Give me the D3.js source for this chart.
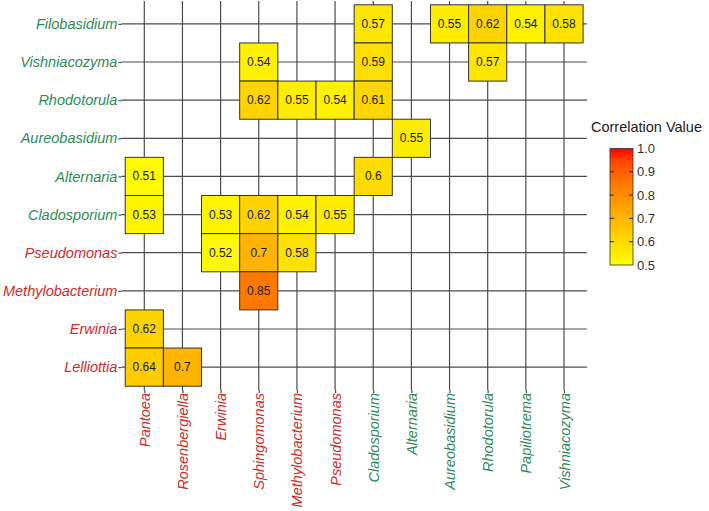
<!DOCTYPE html>
<html>
<head>
<meta charset="utf-8">
<script src="https://cdn.jsdelivr.net/npm/d3@7"></script>
<style>
  body { margin: 0; background: #fff; }
  text { font-family: "Liberation Sans", Arial, sans-serif; }
</style>
</head>
<body>
<div id="chart"></div>
<script>
// taxa along the x axis (left to right) and y axis (bottom to top)
const xTaxa = ["Pantoea", "Rosenbergiella", "Erwinia", "Sphingomonas", "Methylobacterium", "Pseudomonas",
               "Cladosporium", "Alternaria", "Aureobasidium", "Rhodotorula", "Papiliotrema", "Vishniacozyma"];
const yTaxa = ["Lelliottia", "Erwinia", "Methylobacterium", "Pseudomonas", "Cladosporium", "Alternaria",
               "Aureobasidium", "Rhodotorula", "Vishniacozyma", "Filobasidium"];
const bacteria = ["Pantoea", "Rosenbergiella", "Erwinia", "Sphingomonas", "Methylobacterium", "Pseudomonas", "Lelliottia"];

// correlation tiles: [x taxon, y taxon, value]
const cells = [
  ["Cladosporium", "Filobasidium", 0.57],
  ["Aureobasidium", "Filobasidium", 0.55],
  ["Rhodotorula", "Filobasidium", 0.62],
  ["Papiliotrema", "Filobasidium", 0.54],
  ["Vishniacozyma", "Filobasidium", 0.58],
  ["Sphingomonas", "Vishniacozyma", 0.54],
  ["Cladosporium", "Vishniacozyma", 0.59],
  ["Rhodotorula", "Vishniacozyma", 0.57],
  ["Sphingomonas", "Rhodotorula", 0.62],
  ["Methylobacterium", "Rhodotorula", 0.55],
  ["Pseudomonas", "Rhodotorula", 0.54],
  ["Cladosporium", "Rhodotorula", 0.61],
  ["Alternaria", "Aureobasidium", 0.55],
  ["Pantoea", "Alternaria", 0.51],
  ["Cladosporium", "Alternaria", 0.6],
  ["Pantoea", "Cladosporium", 0.53],
  ["Erwinia", "Cladosporium", 0.53],
  ["Sphingomonas", "Cladosporium", 0.62],
  ["Methylobacterium", "Cladosporium", 0.54],
  ["Pseudomonas", "Cladosporium", 0.55],
  ["Erwinia", "Pseudomonas", 0.52],
  ["Sphingomonas", "Pseudomonas", 0.7],
  ["Methylobacterium", "Pseudomonas", 0.58],
  ["Sphingomonas", "Methylobacterium", 0.85],
  ["Pantoea", "Erwinia", 0.62],
  ["Pantoea", "Lelliottia", 0.64],
  ["Rosenbergiella", "Lelliottia", 0.7]
];
const legendTicks = [0.5, 0.6, 0.7, 0.8, 0.9, 1.0];

const width = 709, height = 511;
const red = "#d42a2a", green = "#2e8b57";
const labelColor = d => bacteria.includes(d) ? red : green;

const svg = d3.select("#chart").append("svg")
  .attr("width", width).attr("height", height);

// panel bounds, with ggplot-style 0.6 band expansion on discrete axes
const panel = { left: 121.4, right: 586.9, top: 1, bottom: 390 };
const x = d3.scalePoint().domain(xTaxa).range([panel.left, panel.right]).padding(0.6);
const y = d3.scalePoint().domain(yTaxa).range([panel.bottom, panel.top]).padding(0.6);
const step = x.step();

const color = d3.scaleLinear().domain([0.5, 1]).range(["#ffff00", "#ff0000"])
  .interpolate(d3.interpolateLab);

// grid lines
svg.append("g").selectAll("line").data(xTaxa).join("line")
  .attr("x1", d => x(d)).attr("x2", d => x(d))
  .attr("y1", panel.top).attr("y2", panel.bottom)
  .attr("stroke", "#4d4d4d").attr("stroke-width", 1.2);
svg.append("g").selectAll("line").data(yTaxa).join("line")
  .attr("x1", panel.left).attr("x2", panel.right)
  .attr("y1", d => y(d)).attr("y2", d => y(d))
  .attr("stroke", "#4d4d4d").attr("stroke-width", 1.2);

// tiles
const tiles = svg.append("g").selectAll("g").data(cells).join("g");
tiles.append("rect")
  .attr("x", d => x(d[0]) - step / 2)
  .attr("y", d => y(d[1]) - step / 2)
  .attr("width", step).attr("height", step)
  .attr("fill", d => color(d[2]))
  .attr("stroke", "#333").attr("stroke-width", 1);
tiles.append("text")
  .attr("x", d => x(d[0])).attr("y", d => y(d[1]))
  .attr("text-anchor", "middle").attr("dominant-baseline", "central")
  .attr("font-size", 12).attr("fill", "#1a1a1a")
  .text(d => String(d[2]));

// axes
const yAxis = svg.append("g").attr("transform", `translate(${panel.left},0)`)
  .call(d3.axisLeft(y).tickSize(3).tickPadding(1));
yAxis.select(".domain").remove();
yAxis.selectAll(".tick line").attr("stroke", "#4d4d4d").attr("stroke-width", 1.2);
yAxis.selectAll(".tick text")
  .attr("font-size", 14.5).attr("font-style", "italic")
  .attr("font-family", "'Liberation Sans', Arial, sans-serif")
  .attr("fill", d => labelColor(d));

const xAxis = svg.append("g").attr("transform", `translate(0,${panel.bottom})`)
  .call(d3.axisBottom(x).tickSize(3).tickPadding(3));
xAxis.select(".domain").remove();
xAxis.selectAll(".tick line").attr("stroke", "#4d4d4d").attr("stroke-width", 1.2);
xAxis.selectAll(".tick text")
  .attr("font-size", 14.5).attr("font-style", "italic")
  .attr("font-family", "'Liberation Sans', Arial, sans-serif")
  .attr("transform", "rotate(-90)")
  .attr("x", -3).attr("y", 0).attr("dy", "0.35em")
  .attr("text-anchor", "end")
  .attr("fill", d => labelColor(d));

// legend
const lg = { x: 610, top: 148.5, bottom: 265, w: 23 };
const ly = d3.scaleLinear().domain([0.5, 1]).range([lg.bottom, lg.top]);
const grad = svg.append("defs").append("linearGradient")
  .attr("id", "grad").attr("x1", 0).attr("y1", 1).attr("x2", 0).attr("y2", 0);
d3.range(0, 1.0001, 0.1).forEach(t => {
  grad.append("stop").attr("offset", t).attr("stop-color", color(0.5 + t * 0.5));
});
svg.append("text").attr("x", 591).attr("y", 131.5)
  .attr("font-size", 14.5).attr("fill", "#222").text("Correlation Value");
svg.append("rect").attr("x", lg.x).attr("y", lg.top)
  .attr("width", lg.w).attr("height", lg.bottom - lg.top)
  .attr("fill", "url(#grad)").attr("stroke", "#333").attr("stroke-width", 0.8);
const lt = svg.append("g").selectAll("g").data(legendTicks).join("g");
lt.filter(d => d > 0.5 && d < 1).append("line")
  .attr("x1", lg.x).attr("x2", lg.x + 4)
  .attr("y1", d => ly(d)).attr("y2", d => ly(d)).attr("stroke", "#222");
lt.filter(d => d > 0.5 && d < 1).append("line")
  .attr("x1", lg.x + lg.w - 4).attr("x2", lg.x + lg.w)
  .attr("y1", d => ly(d)).attr("y2", d => ly(d)).attr("stroke", "#222");
lt.append("text").attr("x", lg.x + lg.w + 4).attr("y", d => ly(d))
  .attr("dominant-baseline", "central").attr("font-size", 13).attr("fill", "#333")
  .text(d => d3.format(".1f")(d));
</script>
</body>
</html>
